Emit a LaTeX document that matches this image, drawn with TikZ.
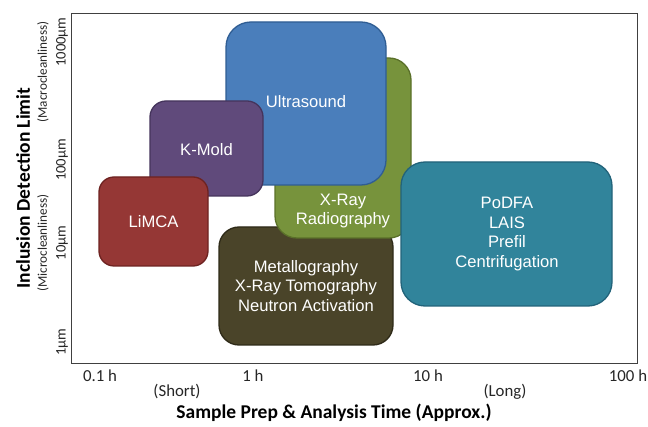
\documentclass[tikz,border=0pt]{standalone}
\usepackage{fontspec}
\setmainfont{Liberation Sans}
\newfontfamily\calibri{Carlito}
\definecolor{cblue}{HTML}{4A7EBB}
\definecolor{cblueD}{HTML}{2F5D93}
\definecolor{cgreen}{HTML}{77933C}
\definecolor{cgreenD}{HTML}{5A7029}
\definecolor{cpurple}{HTML}{604A7B}
\definecolor{cpurpleD}{HTML}{45345C}
\definecolor{cred}{HTML}{953735}
\definecolor{credD}{HTML}{6E2321}
\definecolor{cbrown}{HTML}{4A4429}
\definecolor{cbrownD}{HTML}{2E2A18}
\definecolor{cteal}{HTML}{31849B}
\definecolor{ctealD}{HTML}{22637A}
\definecolor{frameC}{HTML}{404040}
\begin{document}
\begin{tikzpicture}[x=1pt,y=-1pt,
  box/.style={line width=1.3pt, inner sep=0pt, outer sep=0pt},
  lbl/.style={text=white, font=\fontsize{16.6}{19.5}\selectfont, align=center, inner sep=0pt},
  tick/.style={font=\calibri\fontsize{16.8}{19}\selectfont, text=black!85, inner sep=0pt},
  ytick/.style={font=\calibri\fontsize{14.6}{17}\selectfont, text=black!85, inner sep=0pt, rotate=90},
  yparen/.style={font=\calibri\fontsize{13.2}{15}\selectfont, text=black!85, inner sep=0pt, rotate=90},
  axtitle/.style={font=\calibri\bfseries\fontsize{19.5}{22}\selectfont, inner sep=0pt}]
\useasboundingbox (0,0) rectangle (648,427);
\fill[white] (0,0) rectangle (648,427);
% frame
\draw[frameC, line width=1.6pt] (71.5,13.5) rectangle (637.5,363.5);
% boxes
\node[box, draw=cbrownD, fill=cbrown, rounded corners=20pt, minimum width=174pt, minimum height=118pt] (brown) at (306,286) {};
\node[box, draw=cgreenD, fill=cgreen, rounded corners=22pt, minimum width=136pt, minimum height=180pt] (green) at (343,148) {};
\node[box, draw=cblueD, fill=cblue, rounded corners=25pt, minimum width=160pt, minimum height=163pt] (blue) at (306,103.5) {};
\node[box, draw=cpurpleD, fill=cpurple, rounded corners=16pt, minimum width=113pt, minimum height=95pt] (purple) at (206.5,148.5) {};
\node[box, draw=credD, fill=cred, rounded corners=15pt, minimum width=109pt, minimum height=89pt] (red) at (153.5,221.5) {};
\node[box, draw=ctealD, fill=cteal, rounded corners=24pt, minimum width=211pt, minimum height=144pt] (teal) at (506.5,234) {};
% labels
\node[lbl] (blueT) at (306,102) {Ultrasound};
\node[lbl] (greenT) at (343,211) {X-Ray\\Radiography};
\node[lbl] (purpleT) at (206.5,150) {K-Mold};
\node[lbl] (redT) at (153.5,222) {LiMCA};
\node[lbl] (brownT) at (306,286) {Metallography\\X-Ray Tomography\\Neutron Activation};
\node[lbl] (tealT) at (507,234) {PoDFA\\LAIS\\Prefil\\Centrifugation};
% x axis
\node[tick] (x01) at (100,376) {0.1 h};
\node[tick] (x1) at (253,376) {1 h};
\node[tick] (x10) at (428,376) {10 h};
\node[tick] (x100) at (628,376) {100 h};
\node[tick] (xs) at (177,392) {(Short)};
\node[tick] (xl) at (505,392) {(Long)};
\node[axtitle] (xt) at (334,413) {Sample Prep \& Analysis Time (Approx.)};
% y axis
\node[ytick] (y1000) at (62,42) {1000µm};
\node[ytick] (y100) at (62,160) {100µm};
\node[ytick] (y10) at (62,243) {10µm};
\node[ytick] (y1) at (62,342) {1µm};
\node[yparen] (ymac) at (43,72) {(Macrocleanliness)};
\node[yparen] (ymic) at (43,243) {(Microcleanliness)};
\node[axtitle, rotate=90] (yt) at (23,188) {Inclusion Detection Limit};
\end{tikzpicture}
\end{document}
